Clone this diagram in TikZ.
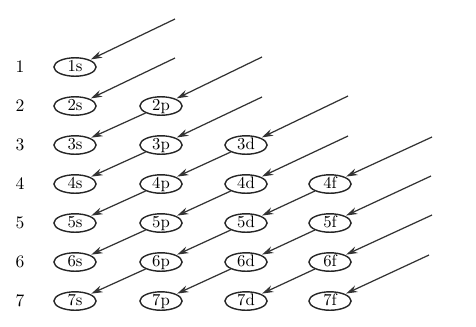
\documentclass[tikz,border=0pt]{standalone}
\usepackage{tikz}
\usetikzlibrary{shapes.geometric,arrows.meta}

\begin{document}
\begin{tikzpicture}[
  x=0.02cm, y=-0.02cm,
  orbital/.style={ellipse, draw=black!85, line width=0.8pt, minimum width=24pt,
    minimum height=10.5pt, inner sep=0pt, text height=6pt, text depth=1pt,
    font=\fontsize{9.5}{10}\selectfont},
  rowlabel/.style={inner sep=0pt, font=\fontsize{10}{11}\selectfont},
  fill order/.style={draw=black!80, line width=0.7pt,
    -{Stealth[length=6.5pt,width=4pt]}, shorten >=0.5pt}
]
\useasboundingbox (0,0) rectangle (476,326);

% row numbers
\node[rowlabel] (r1) at (20,67) {1};
\node[rowlabel] (r2) at (20,106) {2};
\node[rowlabel] (r3) at (20,145) {3};
\node[rowlabel] (r4) at (20,184) {4};
\node[rowlabel] (r5) at (20,223) {5};
\node[rowlabel] (r6) at (20,262) {6};
\node[rowlabel] (r7) at (20,301) {7};

% orbitals
\node[orbital] (1s) at (75,67) {1s};
\node[orbital] (2s) at (75,106) {2s};
\node[orbital] (2p) at (161,106) {2p};
\node[orbital] (3s) at (75,145) {3s};
\node[orbital] (3p) at (161,145) {3p};
\node[orbital] (3d) at (246,145) {3d};
\node[orbital] (4s) at (75,184) {4s};
\node[orbital] (4p) at (161,184) {4p};
\node[orbital] (4d) at (246,184) {4d};
\node[orbital] (4f) at (330,184) {4f};
\node[orbital] (5s) at (75,223) {5s};
\node[orbital] (5p) at (161,223) {5p};
\node[orbital] (5d) at (246,223) {5d};
\node[orbital] (5f) at (330,223) {5f};
\node[orbital] (6s) at (75,262) {6s};
\node[orbital] (6p) at (161,262) {6p};
\node[orbital] (6d) at (246,262) {6d};
\node[orbital] (6f) at (330,262) {6f};
\node[orbital] (7s) at (75,301) {7s};
\node[orbital] (7p) at (161,301) {7p};
\node[orbital] (7d) at (246,301) {7d};
\node[orbital] (7f) at (330,301) {7f};

% free ends of the entry arrows
\coordinate (in1s) at (175,19);
\coordinate (in2s) at (175,58);
\coordinate (in2p) at (262,57);
\coordinate (in3p) at (262,97);
\coordinate (in3d) at (348,96);
\coordinate (in4d) at (348,136);
\coordinate (in4f) at (432,137);
\coordinate (in5f) at (431,176);
\coordinate (in6f) at (432,215);
\coordinate (in7f) at (429,255);

\draw[fill order] (in1s) -- (1s);
\draw[fill order] (in2s) -- (2s);
\draw[fill order] (in2p) -- (2p);
\draw[fill order] (in3p) -- (3p);
\draw[fill order] (in3d) -- (3d);
\draw[fill order] (in4d) -- (4d);
\draw[fill order] (in4f) -- (4f);
\draw[fill order] (in5f) -- (5f);
\draw[fill order] (in6f) -- (6f);
\draw[fill order] (in7f) -- (7f);

% diagonals
\draw[fill order] (2p) -- (3s);
\draw[fill order] (3p) -- (4s);
\draw[fill order] (3d) -- (4p);
\draw[fill order] (4p) -- (5s);
\draw[fill order] (4d) -- (5p);
\draw[fill order] (5p) -- (6s);
\draw[fill order] (4f) -- (5d);
\draw[fill order] (5d) -- (6p);
\draw[fill order] (6p) -- (7s);
\draw[fill order] (5f) -- (6d);
\draw[fill order] (6d) -- (7p);
\draw[fill order] (6f) -- (7d);
\end{tikzpicture}
\end{document}
